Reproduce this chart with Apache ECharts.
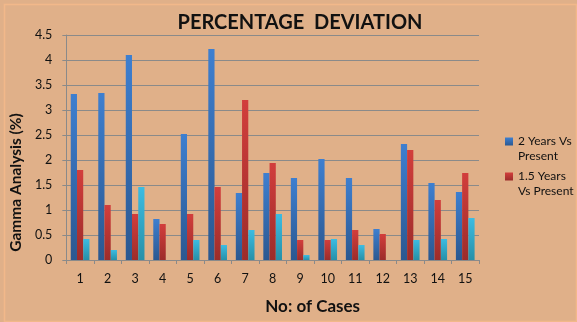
<!DOCTYPE html>
<html>
<head>
<meta charset="utf-8">
<script src="https://cdn.jsdelivr.net/npm/echarts@6/dist/echarts.min.js"></script>
<style>
html,body{margin:0;padding:0;background:#E0B089;}
#c{width:577px;height:322px;}
</style>
</head>
<body>
<div id="c"></div>
<script>
var categories = ['1','2','3','4','5','6','7','8','9','10','11','12','13','14','15'];
var seriesNames = ['2 Years Vs Present', '1.5 Years Vs Present', 'Series3'];
var twoYears = [3.32, 3.34, 4.10, 0.82, 2.52, 4.22, 1.34, 1.74, 1.64, 2.02, 1.64, 0.62, 2.32, 1.54, 1.36];
var oneHalfYears = [1.80, 1.10, 0.92, 0.72, 0.92, 1.46, 3.20, 1.94, 0.40, 0.40, 0.60, 0.52, 2.20, 1.20, 1.74];
var third = [0.42, 0.20, 1.46, 0, 0.40, 0.30, 0.60, 0.92, 0.10, 0.42, 0.30, 0, 0.40, 0.42, 0.84];

var FONT = 'Lato, "Open Sans", sans-serif';
function grad(top, bottom) {
  return new echarts.graphic.LinearGradient(0, 0, 0, 1, [
    {offset: 0, color: top}, {offset: 1, color: bottom}
  ]);
}
var chart = echarts.init(document.getElementById('c'), null, {renderer: 'canvas'});
chart.setOption({
  backgroundColor: '#E0B089',
  animation: false,
  graphic: [{
    type: 'rect', left: 2, top: 2, shape: {width: 572, height: 317},
    style: {fill: 'none', stroke: '#F2B88A', lineWidth: 1.5}, silent: true
  }],
  title: {
    text: 'PERCENTAGE  DEVIATION', left: 295, top: 8, textAlign: 'center',
    textStyle: {fontFamily: FONT, fontWeight: 'bold', fontSize: 20, color: '#111'}
  },
  legend: {
    data: [seriesNames[0], seriesNames[1]],
    orient: 'vertical', left: 500, top: 115.5, itemGap: -7,
    itemWidth: 8, itemHeight: 8, icon: 'rect',
    formatter: function (n) {
      return n === seriesNames[0] ? '{t|}\n{t|2 Years Vs}\n{t|Present}' : '{t|}\n{t|1.5 Years}\n{t|Vs Present}';
    },
    textStyle: {
      fontFamily: FONT, fontSize: 12, color: '#111',
      rich: {t: {fontFamily: FONT, fontSize: 12, color: '#111', lineHeight: 15}}
    }
  },
  grid: {left: 59, right: 98, top: 35, bottom: 62, containLabel: false},
  xAxis: {
    type: 'category', data: categories,
    name: 'No: of Cases', nameLocation: 'middle', nameGap: 38,
    nameTextStyle: {fontFamily: FONT, fontWeight: 'bold', fontSize: 17, color: '#111', padding: [0, 0, 0, 80]},
    axisLine: {lineStyle: {color: '#8A8A8A', width: 1}},
    axisTick: {show: true, length: 4, lineStyle: {color: '#8A8A8A'}},
    axisLabel: {fontFamily: FONT, fontSize: 12.5, color: '#111', margin: 12}
  },
  yAxis: {
    type: 'value', min: 0, max: 4.5, interval: 0.5,
    name: 'Gamma Analysis (%)', nameLocation: 'middle', nameGap: 34,
    nameTextStyle: {fontFamily: FONT, fontWeight: 'bold', fontSize: 15.5, color: '#111', padding: [0, 70, 0, 0]},
    axisLine: {show: true, lineStyle: {color: '#8A8A8A', width: 1}},
    axisTick: {show: true, length: 4, lineStyle: {color: '#8A8A8A'}},
    splitLine: {lineStyle: {color: '#8A8A8A', width: 1}},
    axisLabel: {fontFamily: FONT, fontSize: 12.5, color: '#111', margin: 14}
  },
  series: [
    {name: seriesNames[0], type: 'bar', data: twoYears, barGap: '0%', barCategoryGap: '32%',
     itemStyle: {color: grad('#3E7FD0', '#2B5890')}},
    {name: seriesNames[1], type: 'bar', data: oneHalfYears,
     itemStyle: {color: grad('#D23E3C', '#9C2C2A')}},
    {name: seriesNames[2], type: 'bar', data: third,
     itemStyle: {color: grad('#3CBCE2', '#2790A8')}}
  ]
});
</script>
</body>
</html>
